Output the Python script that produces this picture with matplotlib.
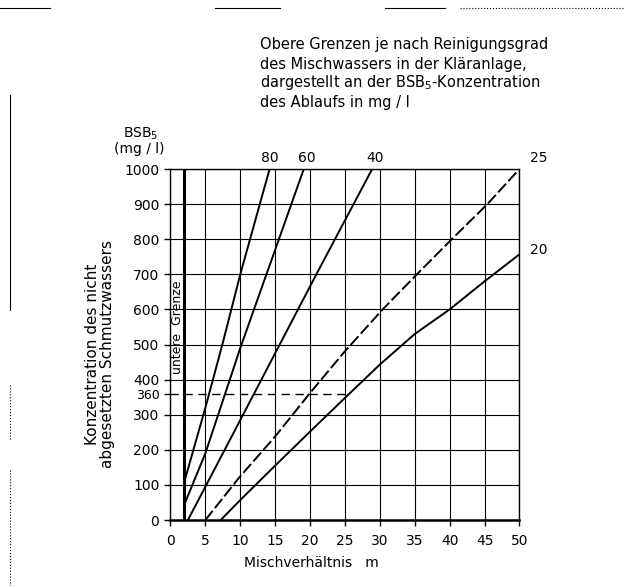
import numpy as np
import matplotlib.pyplot as plt
from matplotlib.lines import Line2D

# lines, labelled by BSB5 of the effluent (mg/l)
m_80 = [2.0, 5.0, 7.5, 10.0, 14.2]
y_80 = [110, 320, 505, 700, 1000]

m_60 = [2.0, 5.0, 10.0, 15.0, 19.1]
y_60 = [45, 190, 490, 770, 1000]

m_40 = [2.5, 10.4, 20.9, 28.9]
y_40 = [0, 300, 700, 1000]

m_25 = [5.0, 9.8, 15.0, 20.0, 25.0, 30.4, 35.3, 40.3, 45.4, 50.0]
y_25 = [0, 120, 238, 362, 481, 600, 700, 800, 900, 1000]

m_20 = [7.2, 10.0, 15.0, 20.0, 25.0, 30.0, 35.0, 40.0, 45.0, 50.0]
y_20 = [0, 57, 155, 252, 348, 443, 530, 600, 680, 757]

m_lower = 2.0          # untere Grenze
y_limit = 360          # dashed limit
m_limit_end = 25.6

xticks = np.arange(0, 51, 5)
yticks = np.arange(0, 1001, 100)

title_lines = ["Obere Grenzen je nach Reinigungsgrad",
               "des Mischwassers in der Kläranlage,",
               "dargestellt an der BSB$_5$-Konzentration",
               "des Ablaufs in mg / l"]

plt.rcParams['font.family'] = ['DejaVu Sans']

fig = plt.figure(figsize=(6.24, 5.86), dpi=100)
ax = fig.add_axes([0.2732, 0.1126, 0.5593, 0.599])

ax.set_xlim(0, 50)
ax.set_ylim(0, 1000)

ax.set_xticks(xticks)
ax.set_yticks(list(yticks) + [y_limit])
ax.set_yticklabels([str(v) for v in yticks] + ["360"])
ax.tick_params(axis='both', direction='out', length=4, width=1, labelsize=10, color='black')
ax.tick_params(axis='y', pad=4)
ax.tick_params(axis='x', pad=6)
for lab in ax.get_yticklabels():
	if lab.get_text() == "360":
		lab.set_fontsize(9)

# grid
for xv in xticks:
	ax.axvline(xv, color='black', lw=0.8, zorder=1)
for yv in yticks:
	ax.axhline(yv, color='black', lw=0.8, zorder=1)

for s in ax.spines.values():
	s.set_linewidth(1.0)
ax.spines['bottom'].set_linewidth(1.8)

ax.plot([0, m_limit_end], [y_limit, y_limit], color='black', lw=1.0,
		linestyle=(0, (6, 4)), zorder=2)

ax.plot([m_lower, m_lower], [0, 1000], color='black', lw=2.2, zorder=3)
ax.text(1.0, 550, "untere  Grenze", rotation=90, ha='center', va='center', fontsize=9)

kw = dict(color='black', lw=1.4, zorder=3, solid_capstyle='butt')
ax.plot(m_80, y_80, **kw)
ax.plot(m_60, y_60, **kw)
ax.plot(m_40, y_40, **kw)
ax.plot(m_25, y_25, linestyle=(0, (6, 1.8)), **kw)
ax.plot(m_20, y_20, **kw)

# curve labels
ax.text(14.3, 1010, "80", ha='center', va='bottom', fontsize=10)
ax.text(19.5, 1010, "60", ha='center', va='bottom', fontsize=10)
ax.text(29.3, 1010, "40", ha='center', va='bottom', fontsize=10)
ax.text(52.8, 1010, "25", ha='center', va='bottom', fontsize=10)
ax.text(52.8, 770, "20", ha='center', va='center', fontsize=10)

# unit above the y axis
fig.text(141 / 624, 1 - 134 / 586, "BSB$_5$", ha='center', va='center', fontsize=10)
fig.text(139 / 624, 1 - 149 / 586, "(mg / l)", ha='center', va='center', fontsize=10)

fig.text(100 / 624, 1 - 354 / 586, "Konzentration des nicht\nabgesetzten Schmutzwassers",
		 rotation=90, ha='center', va='center', fontsize=11, multialignment='center',
		 linespacing=1.0)

fig.text(311 / 624, 1 - 563 / 586, "Mischverhältnis   m", ha='center', va='center', fontsize=10)

for i, line in enumerate(title_lines):
	fig.text(260 / 624, 1 - (45 + 19 * i) / 586, line, ha='left', va='center', fontsize=10.5)

# page border left over from the scan
for x0, x1, ls in [(0, 50, '-'), (215, 280, '-'), (385, 445, '-'), (460, 624, ':')]:
	fig.add_artist(Line2D([x0 / 624, x1 / 624], [1 - 8 / 586] * 2, color='black', lw=0.8, linestyle=ls))
for y0, y1, ls in [(95, 310, '-'), (385, 440, ':'), (470, 586, ':')]:
	fig.add_artist(Line2D([10 / 624] * 2, [1 - y0 / 586, 1 - y1 / 586], color='black', lw=0.8, linestyle=ls))

fig.savefig("out.png", dpi=100)
